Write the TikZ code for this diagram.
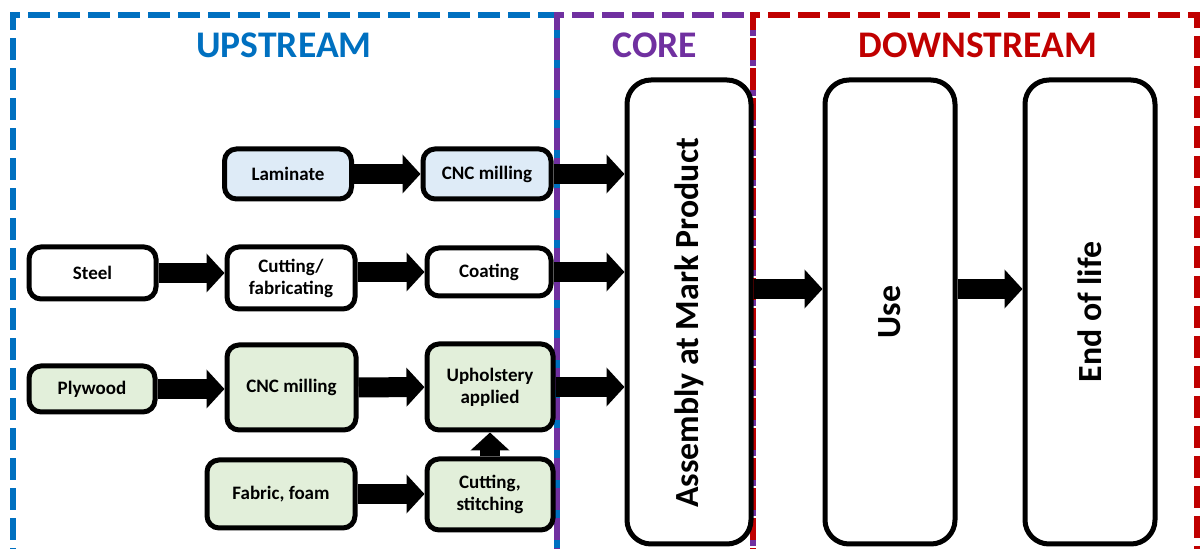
\documentclass[tikz,border=0pt]{standalone}
\usepackage{fontspec}
\setmainfont{Carlito}
\usepackage{graphicx}
\usetikzlibrary{arrows.meta}
\usetikzlibrary{positioning}
\definecolor{upblue}{HTML}{0070C0}
\definecolor{corepurple}{HTML}{7030A0}
\definecolor{downred}{HTML}{C00000}
\definecolor{lamblue}{HTML}{DEEBF7}
\definecolor{woodgreen}{HTML}{E2EFDA}
\newcommand{\upright}[1]{\rotatebox{90}{#1}}

\begin{document}
\begin{tikzpicture}[x=0.5pt,y=-0.5pt,font=\bfseries,
		stage/.style={rectangle,draw=black,line width=2.5pt,rounded corners=6pt,
			align=center,inner sep=1pt,font=\fontsize{9.5}{11}\selectfont\bfseries},
		bigstage/.style={stage,rounded corners=12pt,minimum width=62pt,minimum height=232pt,
			font=\fontsize{16.9}{19}\selectfont\bfseries},
		flow/.style={line width=10pt,-{Triangle[length=9pt,width=19pt]}},
		zone/.style={line width=3pt,dash pattern=on 11pt off 4pt},
		heading/.style={font=\fontsize{18.8}{22}\selectfont\bfseries}]
		\useasboundingbox (0,0) rectangle (1201,549);
		
		\begin{scope}
		\clip (0,0) rectangle (1201,549);
		\draw[zone,upblue] (13,600) -- (13,15) -- (557,15) -- (557,600);
		\draw[zone,corepurple] (557,600) -- (557,15) -- (753,15) -- (753,600);
		\draw[zone,downred] (753,600) -- (753,15) -- (1197,15) -- (1197,600);
		\end{scope}
		
		\node[heading,text=upblue]     (up)   at (284,45)  {UPSTREAM};
		\node[heading,text=corepurple] (core) at (655,45)  {CORE};
		\node[heading,text=downred]    (down) at (978,45)  {DOWNSTREAM};
		
		% upstream stages
		\node[stage,fill=lamblue,minimum width=63.5pt,minimum height=25pt] (lam)  at (288,174) {Laminate};
		\node[stage,fill=lamblue,minimum width=64pt,minimum height=25pt]   (cnca) at (487,174) {CNC milling};
		\node[stage,minimum width=63.5pt,minimum height=26pt] (steel) at (92.5,273) {Steel};
		\node[stage,minimum width=64pt,minimum height=31pt]   (cut)   at (291,278) {Cutting/\\fabricating};
		\node[stage,minimum width=62pt,minimum height=24pt]   (coat)  at (489,272) {Coating};
		\node[stage,fill=woodgreen,minimum width=63pt,minimum height=23pt]   (ply)  at (92,389)   {Plywood};
		\node[stage,fill=woodgreen,minimum width=64.5pt,minimum height=42.5pt] (cncb) at (291.5,387.5) {CNC milling};
		\node[stage,fill=woodgreen,minimum width=63pt,minimum height=43pt]   (uph)  at (490,387)  {Upholstery\\applied};
		\node[stage,fill=woodgreen,minimum width=74pt,minimum height=34pt]   (fab)  at (281,494)  {Fabric, foam};
		\node[stage,fill=woodgreen,minimum width=63pt,minimum height=35.5pt] (stitch) at (490,494.5) {Cutting,\\stitching};
		
		% core and downstream
		\node[bigstage] (asm) at (689,312)  {\upright{Assembly at Mark Product\hspace*{11pt}}};
		\node[bigstage,minimum width=65pt] (use) at (890,312)  {\upright{Use}};
		\node[bigstage,minimum width=65pt] (eol) at (1090,312) {\upright{End of life}};
		\coordinate (midrow) at (0,289);
		
		\draw[flow] (lam) -- (cnca);
		\draw[flow] (cnca.east) -- (cnca.east -| asm.west);
		\draw[flow] (steel) -- (steel -| cut.west);
		\draw[flow] (cut.east |- coat) -- (coat);
		\draw[flow] (coat.east) -- (coat.east -| asm.west);
		\draw[flow] (ply) -- (ply -| cncb.west);
		\draw[flow] (cncb) -- (uph);
		\draw[flow] (uph.east) -- (uph.east -| asm.west);
		\draw[flow] (fab) -- (fab -| stitch.west);
		\draw[flow] (stitch) -- (uph);
		\draw[flow] (asm.east |- midrow) -- (use.west |- midrow);
		\draw[flow] (use.east |- midrow) -- (eol.west |- midrow);
\end{tikzpicture}
\end{document}
